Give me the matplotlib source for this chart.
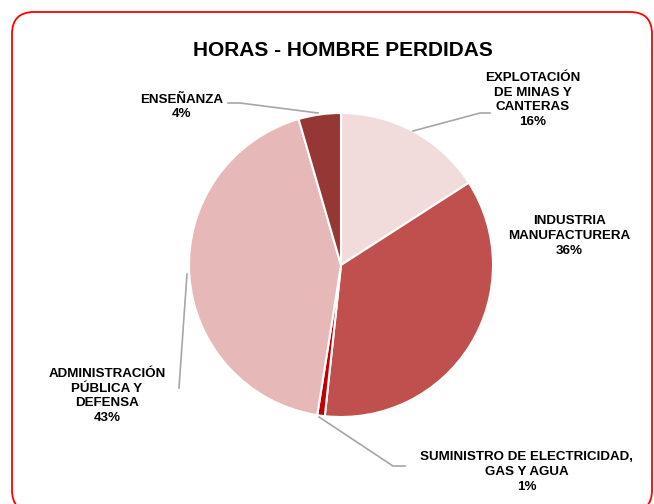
import matplotlib
matplotlib.use("Agg")
import matplotlib.pyplot as plt
from matplotlib.patches import FancyBboxPatch

plt.rcParams["font.family"] = ["Liberation Sans", "DejaVu Sans"]

# ---- data ---------------------------------------------------------------
labels = ["EXPLOTACIÓN\nDE MINAS Y\nCANTERAS",
          "INDUSTRIA\nMANUFACTURERA",
          "SUMINISTRO DE ELECTRICIDAD,\nGAS Y AGUA",
          "ADMINISTRACIÓN\nPÚBLICA Y\nDEFENSA",
          "ENSEÑANZA"]
values = [15.9, 35.8, 0.8, 43.0, 4.5]
shown_pct = [16, 36, 1, 43, 4]
colors = ["#F2DCDB", "#C0504D", "#C00000", "#E6B9B8", "#953735"]

W, H = 654, 504


def py(y):
    """pixel y (from top) -> data y (from bottom)"""
    return H - y


fig = plt.figure(figsize=(W / 100, H / 100), dpi=100)
ax = fig.add_axes([0, 0, 1, 1])
ax.set_xlim(0, W); ax.set_ylim(0, H)
ax.set_aspect("equal"); ax.axis("off")

# rounded red frame
ax.add_patch(FancyBboxPatch((12, py(512)), 640, 500,
             boxstyle="round,pad=0,rounding_size=22",
             fc="white", ec="#FF0000", lw=1.3, zorder=0))

ax.pie(values, colors=colors, startangle=90, counterclock=False,
       center=(341, py(265)), radius=152, frame=True,
       wedgeprops=dict(edgecolor="white", linewidth=1.5))
ax.set_xlim(0, W); ax.set_ylim(0, H); ax.axis("off")

ax.text(343, py(50), "HORAS - HOMBRE PERDIDAS", ha="center", va="center",
        fontsize=15, fontweight="bold", color="black")

# label positions (pixel coords) and leader lines
pos = [(533, 100), (569, 236), (527, 472), (107, 396), (182, 107)]
leaders = [[(413, 131), (480, 113), (490, 113)],
           None,
           [(319, 417), (393, 466), (405, 466)],
           [(187, 274), (179, 388)],
           [(228, 103), (240, 103), (318, 113)]]

for lab, pct, (x, y), ld in zip(labels, shown_pct, pos, leaders):
    ax.text(x, py(y), f"{lab}\n{pct}%", ha="center", va="center",
            fontsize=9.6, fontweight="bold", color="black", linespacing=1.32)
    if ld:
        xs = [p[0] for p in ld]; ys = [py(p[1]) for p in ld]
        ax.plot(xs, ys, color="#A6A6A6", lw=1.2, zorder=5)

fig.savefig("out.png", dpi=100, facecolor="white")
